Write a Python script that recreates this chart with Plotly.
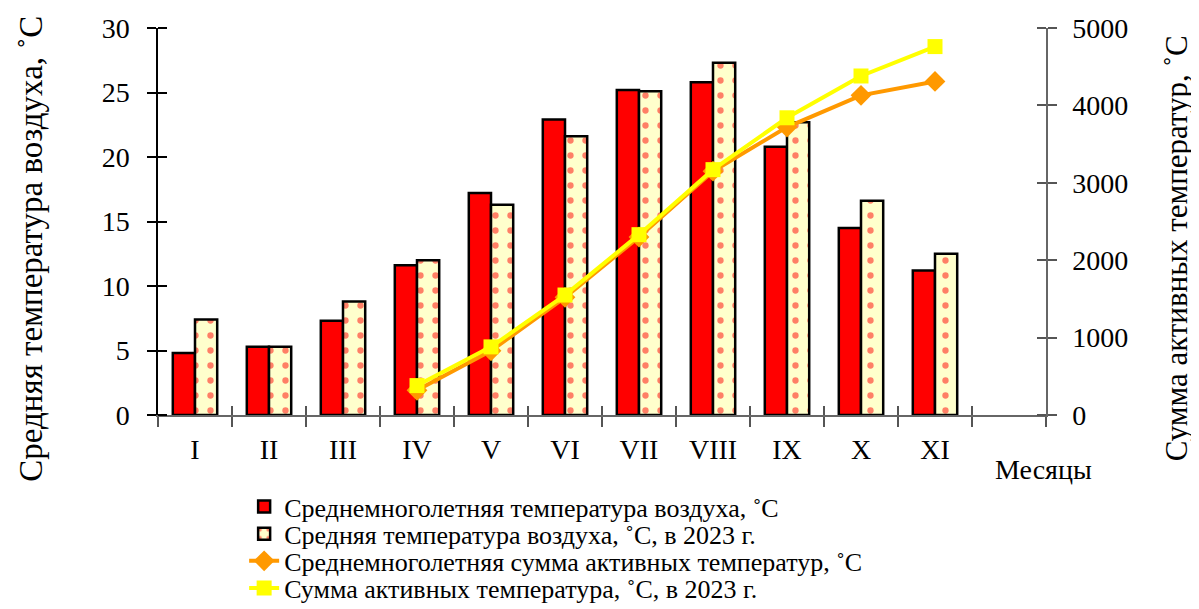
import plotly.graph_objects as go

months = ["I", "II", "III", "IV", "V", "VI", "VII", "VIII", "IX", "X", "XI", ""]
bar_months = ["I", "II", "III", "IV", "V", "VI", "VII", "VIII", "IX", "X", "XI"]
temp_norm = [4.8, 5.3, 7.3, 11.6, 17.2, 22.9, 25.2, 25.8, 20.8, 14.5, 11.2]
temp_2023 = [7.4, 5.3, 8.8, 12.0, 16.3, 21.6, 25.1, 27.3, 22.7, 16.6, 12.5]
line_months = ["IV", "V", "VI", "VII", "VIII", "IX", "X", "XI"]
sum_norm = [320, 830, 1520, 2300, 3150, 3720, 4130, 4310]
sum_2023 = [380, 880, 1550, 2330, 3170, 3840, 4380, 4760]

FONT = "Liberation Serif"

fig = go.Figure()
fig.add_trace(go.Bar(
    x=bar_months, y=temp_norm, name="Среднемноголетняя температура воздуха, ˚С",
    marker=dict(color="#FF0000", line=dict(color="black", width=2.5)),
    legend="legend",
))
fig.add_trace(go.Bar(
    x=bar_months, y=temp_2023, name="Средняя температура воздуха, ˚С, в 2023 г.",
    marker=dict(color="#FFFFCC", line=dict(color="black", width=2.5),
                pattern=dict(shape=".", fgcolor="#FF0000", bgcolor="#FFFFCC",
                             size=15, solidity=0.14)),
    legend="legend2",
))
fig.add_trace(go.Scatter(
    x=line_months, y=sum_norm, yaxis="y2", mode="lines+markers",
    name="Среднемноголетняя сумма активных температур, ˚С",
    line=dict(color="#FF9900", width=4),
    marker=dict(symbol="diamond", size=16, color="#FF9900"),
    legend="legend3",
))
fig.add_trace(go.Scatter(
    x=line_months, y=sum_2023, yaxis="y2", mode="lines+markers",
    name="Сумма активных температура, ˚С, в 2023 г.",
    line=dict(color="#FFFF00", width=4),
    marker=dict(symbol="square", size=15, color="#FFFF00"),
    legend="legend4",
))
# invisible helper trace so the overlay x axis is drawn (inner half of ticks)
fig.add_trace(go.Scatter(x=months, y=[None]*len(months), xaxis="x2",
                         showlegend=False, hoverinfo="skip", mode="lines"))

def leg(y):
    return dict(x=0.097, y=y, xanchor="left", yanchor="middle",
                font=dict(family=FONT, size=26), bgcolor="rgba(0,0,0,0)",
                borderwidth=0)

fig.update_layout(
    width=1191, height=601,
    margin=dict(l=150, r=153, t=20, b=194, autoexpand=False),
    paper_bgcolor="white", plot_bgcolor="white",
    font=dict(family=FONT, color="black", size=28),
    barmode="group", bargap=0.4, bargroupgap=0,
    showlegend=True,
    legend=leg(-0.237), legend2=leg(-0.307), legend3=leg(-0.377), legend4=leg(-0.447),
    xaxis=dict(type="category", categoryorder="array", categoryarray=months,
               range=[-0.5, 11.5], tickson="boundaries", ticks="outside",
               ticklen=10, tickwidth=1.5, tickcolor="#555", showline=True,
               linecolor="#666", linewidth=2, showgrid=False, zeroline=False,
               tickfont=dict(size=28), ticklabelstandoff=8),
    xaxis2=dict(type="category", categoryorder="array", categoryarray=months,
                range=[-0.5, 11.5], tickson="boundaries", ticks="inside",
                ticklen=9, tickwidth=1.5, tickcolor="#555", overlaying="x",
                anchor="y", side="bottom", showticklabels=False, showline=False,
                showgrid=False, zeroline=False),
    yaxis=dict(range=[0, 30], dtick=5, ticks="outside", ticklen=9, tickwidth=1.5,
               tickcolor="black", showline=True, linecolor="black", linewidth=1.5,
               showgrid=False, zeroline=False, tickfont=dict(size=28),
               ticklabelstandoff=12,
               minor=dict(ticks="inside", ticklen=9, tickwidth=1.5, dtick=5,
                          tick0=0, tickcolor="black", showgrid=False)),
    yaxis2=dict(range=[0, 5000], dtick=1000, overlaying="y", side="right",
                ticks="outside", ticklen=9, tickwidth=1.5, tickcolor="#555",
                showline=True, linecolor="#666", linewidth=1.5, showgrid=False,
                zeroline=False, tickfont=dict(size=28), ticklabelstandoff=10,
                minor=dict(ticks="inside", ticklen=9, tickwidth=1.5, dtick=1000,
                           tick0=0, tickcolor="#555", showgrid=False)),
    annotations=[
        dict(text="Средняя температура воздуха, ˚С", xref="paper", yref="paper",
             x=-0.144, y=0.43, textangle=-90, showarrow=False,
             font=dict(family=FONT, size=33), xanchor="center", yanchor="middle"),
        dict(text="Сумма активных температур, ˚С", xref="paper", yref="paper",
             x=1.147, y=0.43, textangle=-90, showarrow=False,
             font=dict(family=FONT, size=31), xanchor="center", yanchor="middle"),
        dict(text="Месяцы", xref="paper", yref="paper", x=0.997, y=-0.142,
             showarrow=False, font=dict(family=FONT, size=28),
             xanchor="center", yanchor="middle"),
    ],
)

fig.write_html("out.html")
